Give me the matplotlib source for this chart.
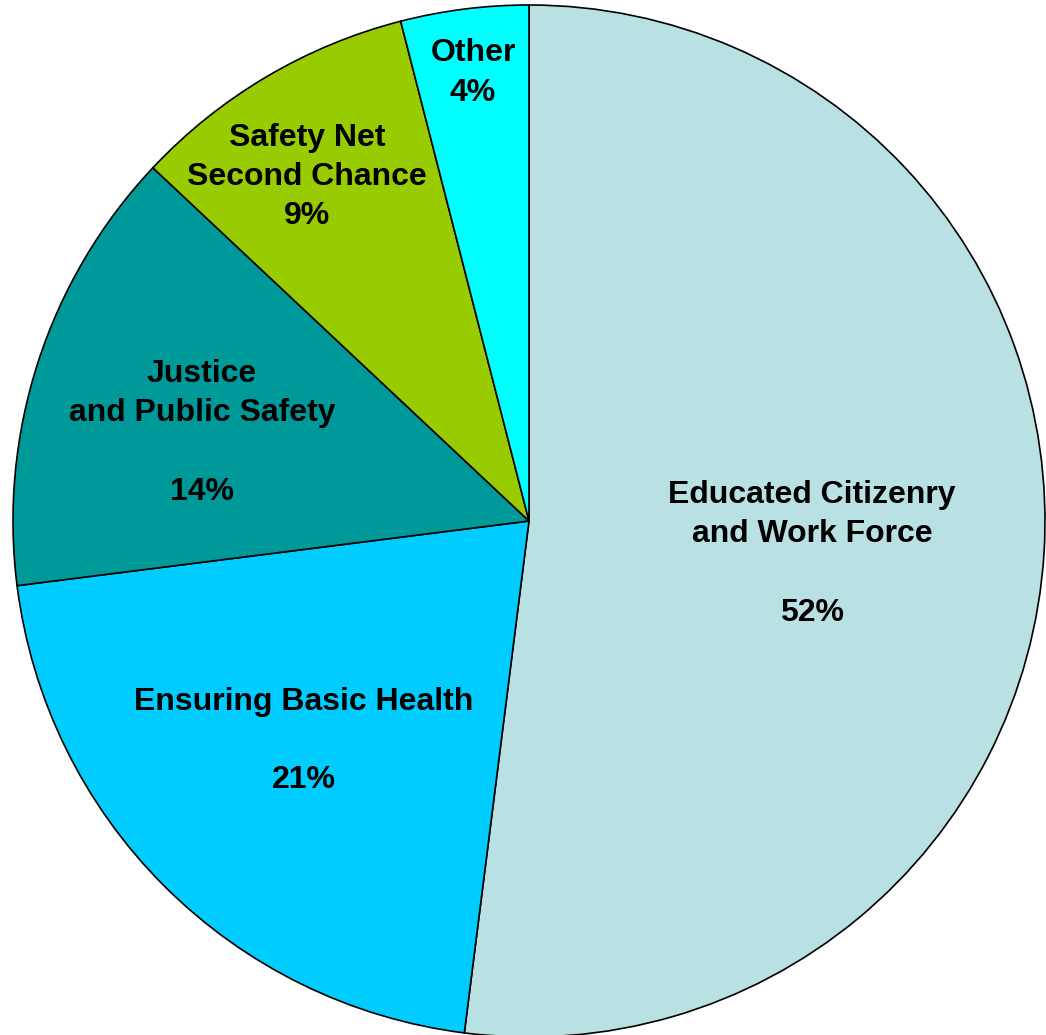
import matplotlib
matplotlib.use("Agg")
import matplotlib.pyplot as plt

# spending shares (percent)
categories = ["Educated Citizenry\nand Work Force", "Ensuring Basic Health",
              "Justice\nand Public Safety", "Safety Net\nSecond Chance", "Other"]
shares = [52, 21, 14, 9, 4]
pct_labels = ["52%", "21%", "14%", "9%", "4%"]
colors = ["#B9E0E3", "#00CCFF", "#009999", "#99CC00", "#00FFFF"]

plt.rcParams['font.family'] = ['Liberation Sans', 'DejaVu Sans']

W, H = 1046, 1035
fig = plt.figure(figsize=(W / 100, H / 100), dpi=100)
ax = fig.add_axes([0, 0, 1, 1])

wedges, _ = ax.pie(shares, colors=colors, startangle=90, counterclock=False,
                   wedgeprops=dict(edgecolor='black', linewidth=1.2))

# pixel geometry of the circle in the reference
cx, cy, R = 529, 521, 516
ax.set_aspect('auto')
ax.set_xlim((0 - cx) / R, (W - cx) / R)
ax.set_ylim((cy - H) / R, (cy - 0) / R)
ax.axis('off')

# label block centres (pixels) and whether a blank line separates the percentage
label_pos = [(812, 554), (304, 741), (202, 433), (307, 177), (473, 73)]
gap = [True, True, True, False, False]

for name, pct, (px, py), g in zip(categories, pct_labels, label_pos, gap):
    txt = name + ("\n\n" if g else "\n") + pct
    ax.text((px - cx) / R, (cy - py) / R, txt, ha='center', va='center',
            multialignment='center', fontsize=23, fontweight='bold',
            linespacing=1.41)

fig.savefig("out.png", dpi=100)
